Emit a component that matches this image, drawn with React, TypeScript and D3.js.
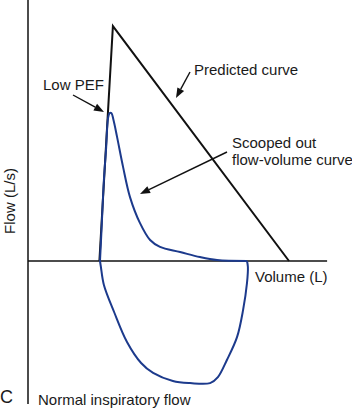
import React from "react";
import * as d3 from "d3";

// Volume (L, arbitrary units) and flow (L/s)
const expVolume = [2.40, 2.45, 2.53, 2.60, 2.67, 2.72, 2.78, 2.85, 2.97, 3.17, 3.40, 3.73, 4.07, 4.40, 5.07, 5.73, 6.30, 7.30];
const expFlow = [0, 1.03, 2.70, 3.70, 4.77, 4.93, 4.93, 4.70, 4.13, 3.13, 2.13, 1.27, 0.70, 0.47, 0.30, 0.13, 0.03, 0];
const inspVolume = [7.30, 7.33, 7.30, 7.17, 6.97, 6.63, 6.33, 6.07, 5.40, 4.83, 4.17, 3.77, 3.30, 2.87, 2.53, 2.43, 2.40];
const inspFlow = [0, -0.20, -0.73, -1.63, -2.53, -3.30, -3.87, -4.07, -4.07, -4.00, -3.73, -3.40, -2.70, -1.70, -0.80, -0.20, 0];
const predVolume = [2.38, 2.83, 8.70];
const predFlow = [0, 7.83, 0];

const W = 352, H = 409;
const x = d3.scaleLinear().domain([0, 10]).range([28, 328]);
const y = d3.scaleLinear().domain([0, 8]).range([261, 21]);

const FONT = "'Liberation Sans', Arial, Helvetica, sans-serif";
const BLUE = "#1c3a8c";

type P = [number, number];

export default function App() {
  const exp: P[] = expVolume.map((v, i) => [v, expFlow[i]]);
  const insp: P[] = inspVolume.map((v, i) => [v, inspFlow[i]]);
  const pred: P[] = predVolume.map((v, i) => [v, predFlow[i]]);
  const smooth = d3.line<P>().x(d => x(d[0])).y(d => y(d[1])).curve(d3.curveCatmullRom.alpha(0.5));
  const straight = d3.line<P>().x(d => x(d[0])).y(d => y(d[1]));

  const arrow = (x1: number, y1: number, x2: number, y2: number, key: string) => {
    const ang = Math.atan2(y2 - y1, x2 - x1);
    const len = 10, half = 3.8;
    const bx = x2 - len * Math.cos(ang), by = y2 - len * Math.sin(ang);
    const px = -Math.sin(ang) * half, py = Math.cos(ang) * half;
    return (
      <g key={key}>
        <line x1={x1} y1={y1} x2={bx} y2={by} stroke="#111" strokeWidth={1.4} />
        <polygon points={`${x2},${y2} ${bx + px},${by + py} ${bx - px},${by - py}`} fill="#111" />
      </g>
    );
  };

  return (
    <svg width={W} height={H} style={{ position: "absolute", left: 0, top: 0, background: "#fff" }} fontFamily={FONT}>
      {/* axes */}
      <line x1={x(0)} y1={0} x2={x(0)} y2={y(-4.77)} stroke="#111" strokeWidth={1.5} />
      <line x1={x(0)} y1={y(0)} x2={x(9.97)} y2={y(0)} stroke="#111" strokeWidth={1.5} />
      {/* predicted */}
      <path d={straight(pred) ?? ""} fill="none" stroke="#111" strokeWidth={2} strokeLinejoin="miter" />
      {/* patient loop */}
      <path d={smooth(exp) ?? ""} fill="none" stroke={BLUE} strokeWidth={2} />
      <path d={smooth(insp) ?? ""} fill="none" stroke={BLUE} strokeWidth={2} />
      {/* annotations */}
      {arrow(73, 95, 104, 112, "a1")}
      {arrow(190, 72, 176, 98, "a2")}
      {arrow(227, 152, 140, 194, "a3")}
      <g fill="#1a1a1a" fontSize={15}>
        <text x={43} y={90}>Low PEF</text>
        <text x={194} y={75}>Predicted curve</text>
        <text x={232} y={148}>Scooped out</text>
        <text x={232} y={165}>flow-volume curve</text>
        <text x={255} y={282}>Volume (L)</text>
        <text transform="translate(15,201) rotate(-90)" textAnchor="middle">Flow (L/s)</text>
        <text x={38} y={405}>Normal inspiratory flow</text>
        <text x={0} y={403} fontSize={18}>C</text>
      </g>
    </svg>
  );
}
